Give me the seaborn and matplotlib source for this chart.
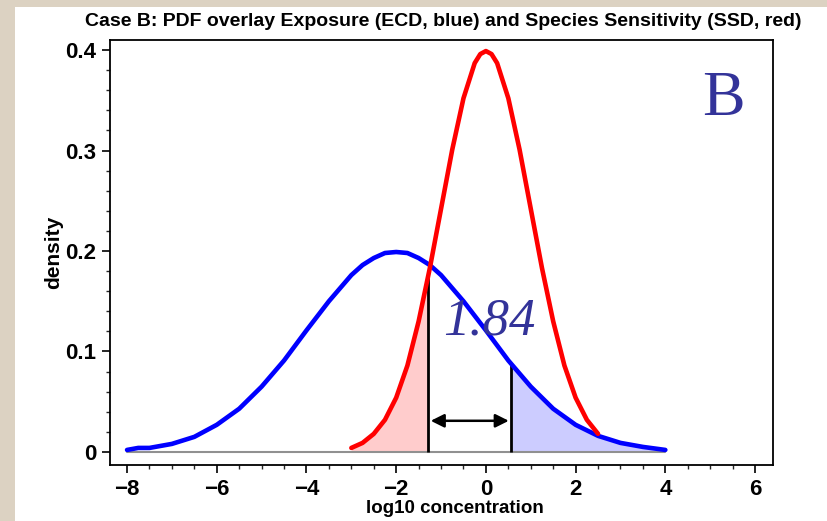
import numpy as np
import pandas as pd
import matplotlib
matplotlib.use("Agg")
import matplotlib.pyplot as plt
from matplotlib.patches import Rectangle
import seaborn as sns

# ---- data ----
ecd_x = [-8.0, -7.75, -7.5, -7.0, -6.5, -6.0, -5.5, -5.0, -4.5, -4.0, -3.5, -3.0,
         -2.75, -2.5, -2.25, -2.0, -1.75, -1.5, -1.25, -1.0, -0.5, 0.0, 0.5, 1.0,
         1.5, 2.0, 2.5, 3.0, 3.5, 4.0]
ecd_y = [0.002, 0.004, 0.004, 0.008, 0.015, 0.027, 0.043, 0.065, 0.091, 0.121,
         0.150, 0.176, 0.186, 0.193, 0.198, 0.199, 0.198, 0.193, 0.186, 0.176,
         0.150, 0.121, 0.091, 0.065, 0.043, 0.027, 0.016, 0.009, 0.005, 0.002]

ssd_x = [-3.0, -2.75, -2.5, -2.25, -2.0, -1.75, -1.5, -1.25, -1.0, -0.75, -0.5,
         -0.25, -0.125, 0.0, 0.125, 0.25, 0.5, 0.75, 1.0, 1.25, 1.5, 1.75, 2.0,
         2.25, 2.5]
ssd_y = [0.004, 0.009, 0.018, 0.032, 0.054, 0.086, 0.130, 0.183, 0.242, 0.301,
         0.352, 0.387, 0.396, 0.399, 0.396, 0.387, 0.352, 0.301, 0.242, 0.183,
         0.130, 0.086, 0.054, 0.032, 0.018]

ssd_cut = -1.28   # 10th percentile of SSD
ecd_cut = 0.56    # 90th percentile of ECD
gap_label = "1.84"
panel_label = "B"
title = "Case B: PDF overlay Exposure (ECD, blue) and Species Sensitivity (SSD, red)"
x_ticks = [-8, -6, -4, -2, 0, 2, 4, 6]
y_ticks = [0, 0.1, 0.2, 0.3, 0.4]
y_tick_labels = ["0", "0.1", "0.2", "0.3", "0.4"]

df = pd.concat([
    pd.DataFrame({"x": ecd_x, "y": ecd_y, "dist": "ECD"}),
    pd.DataFrame({"x": ssd_x, "y": ssd_y, "dist": "SSD"}),
])

sns.set_theme(style="ticks")
plt.rcParams["font.family"] = ["Liberation Sans", "DejaVu Sans"]
plt.rcParams["text.color"] = "black"
plt.rcParams["axes.labelcolor"] = "black"

fig = plt.figure(figsize=(8.28, 5.21), dpi=100)
fig.patch.set_facecolor("#DCD2C2")
bg = Rectangle((15 / 828, 0), 1, (521 - 7) / 521, transform=fig.transFigure,
               facecolor="white", edgecolor="none", zorder=-10)
fig.patches.append(bg)
ax = fig.add_axes([110 / 828, 56 / 521, 663 / 828, 425 / 521])
ax.set_facecolor("white")

ex = np.array(ecd_x); ey = np.array(ecd_y)
sx = np.array(ssd_x); sy = np.array(ssd_y)

# shaded tails
m = sx <= ssd_cut
fx = np.append(sx[m], ssd_cut); fy = np.append(sy[m], np.interp(ssd_cut, sx, sy))
ax.fill_between(fx, 0, fy, color="#FFCCCC", lw=0, zorder=1)
m = ex >= ecd_cut
fx = np.insert(ex[m], 0, ecd_cut); fy = np.insert(ey[m], 0, np.interp(ecd_cut, ex, ey))
ax.fill_between(fx, 0, fy, color="#CCCCFF", lw=0, zorder=1)

# baseline
ax.plot([ecd_x[0], ecd_x[-1]], [0, 0], color="#909090", lw=1.5, zorder=2)

sns.lineplot(data=df, x="x", y="y", hue="dist", palette={"ECD": "#0000FF", "SSD": "#FF0000"},
             estimator=None, sort=False, lw=3.3, legend=False, ax=ax, zorder=4)

# percentile lines
ax.vlines([ssd_cut], 0, np.interp(ssd_cut, sx, sy), color="black", lw=2, zorder=3)
ax.vlines([ecd_cut], 0, np.interp(ecd_cut, ex, ey), color="black", lw=2, zorder=3)
ax.annotate("", xy=(ssd_cut + 0.05, 0.031), xytext=(ecd_cut - 0.05, 0.031),
            arrowprops=dict(arrowstyle="<|-|>", color="black", lw=1.8,
                            mutation_scale=20, shrinkA=0, shrinkB=0), zorder=5)

ax.text(0.07, 0.130, gap_label, fontsize=38, style="italic", family="Liberation Serif",
        color="#333399", ha="center", va="center", zorder=6)
ax.text(5.3, 0.350, panel_label, fontsize=46, family="Liberation Serif",
        color="#333399", ha="center", va="center", zorder=6)

ax.set_xlim(-8.38, 6.4)
ax.set_ylim(-0.013, 0.41)
ax.set_xticks(x_ticks)
ax.set_xticklabels(["\u2212" + str(-t) if t < 0 else str(t) for t in x_ticks])
ax.set_yticks(y_ticks)
ax.set_yticklabels(y_tick_labels)
ax.set_xticks(np.arange(-8, 6.01, 0.5), minor=True)
ax.set_yticks(np.arange(0, 0.401, 0.02), minor=True)
ax.tick_params(axis="both", which="major", direction="out", length=6, width=1.2,
               labelsize=16, pad=4, colors="black")
ax.tick_params(axis="both", which="minor", direction="out", length=3, width=1)
for lab in ax.get_xticklabels() + ax.get_yticklabels():
    lab.set_fontweight("bold")
for s in ax.spines.values():
    s.set_color("black"); s.set_linewidth(1.3); s.set_visible(True)

ax.set_xlabel("log10 concentration", fontsize=13.5, fontweight="bold", color="black")
ax.set_ylabel("density", fontsize=15, fontweight="bold", color="black")
ax.xaxis.set_label_coords((455 - 110) / 663, -(500 - 465) / 425)
ax.yaxis.set_label_coords(-(110 - 63) / 663, (465 - 252) / 425)
fig.text(0.535, 0.958, title, fontsize=14, fontweight="bold", color="black",
         ha="center", va="center")

fig.savefig("out.png", dpi=100)
